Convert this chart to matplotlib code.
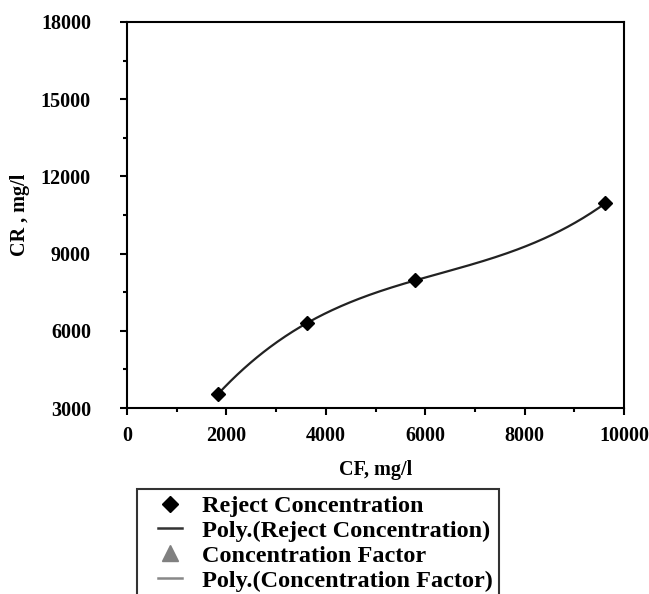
import numpy as np
import matplotlib
matplotlib.use("Agg")
import matplotlib.pyplot as plt
from matplotlib.lines import Line2D
from matplotlib.legend_handler import HandlerLine2D
from matplotlib.ticker import MultipleLocator

# Data
cf = [1830, 3620, 5800, 9620]
cr = [3540, 6300, 7960, 10950]
xticks = [0, 2000, 4000, 6000, 8000, 10000]
yticks = [3000, 6000, 9000, 12000, 15000, 18000]
legend_labels = ["Reject Concentration", "Poly.(Reject Concentration)",
                 "Concentration Factor", "Poly.(Concentration Factor)"]

plt.rcParams['font.family'] = ['Liberation Serif', 'DejaVu Serif']
plt.rcParams['font.weight'] = 'bold'


class ShiftHandler(HandlerLine2D):
    def __init__(self, frac, **kw):
        super().__init__(**kw)
        self.frac = frac

    def create_artists(self, legend, orig_handle, xdescent, ydescent, width,
                       height, fontsize, trans):
        shift = width * self.frac
        return super().create_artists(legend, orig_handle, xdescent - shift,
                                      ydescent, width - shift, height,
                                      fontsize, trans)


fig = plt.figure(figsize=(6.49, 5.94), dpi=100)
ax = fig.add_axes([0.1957, 0.3131, 0.9615 - 0.1957, 0.963 - 0.3131])

coef = np.polyfit(cf, cr, 3)
xs = np.linspace(min(cf), max(cf), 300)
ax.plot(xs, np.polyval(coef, xs), color='#222222', lw=1.6, zorder=2)
ax.plot(cf, cr, linestyle='none', marker='D', color='black', markersize=7.5, zorder=3)

ax.set_xlim(0, 10000)
ax.set_ylim(3000, 18000)
ax.set_xticks(xticks)
ax.set_yticks(yticks)
ax.xaxis.set_minor_locator(MultipleLocator(1000))
ax.yaxis.set_minor_locator(MultipleLocator(1500))
ax.tick_params(axis='both', which='major', direction='out', length=5, width=1.5,
               labelsize=14.5)
ax.tick_params(axis='x', which='major', pad=8)
ax.tick_params(axis='y', which='major', pad=21)
ax.tick_params(axis='both', which='minor', direction='out', length=3, width=1.5)
for lab in ax.get_xticklabels() + ax.get_yticklabels():
    lab.set_fontweight('bold')
for sp in ax.spines.values():
    sp.set_linewidth(1.5)

ax.set_xlabel("CF, mg/l", fontsize=14.5, fontweight='bold', labelpad=10)
ax.set_ylabel("CR , mg/l", fontsize=14.5, fontweight='bold', labelpad=8)

handles = [
    Line2D([], [], linestyle='none', marker='D', color='black', markersize=8),
    Line2D([], [], color='#333333', lw=1.8),
    Line2D([], [], linestyle='none', marker='^', color='#808080', markersize=11),
    Line2D([], [], color='#888888', lw=1.8),
]
hmap = {h: ShiftHandler(0.385) for h in handles}
leg = fig.legend(handles, legend_labels, loc='upper left',
                 bbox_to_anchor=(0.211, 0.1768), bbox_transform=fig.transFigure,
                 frameon=True, fancybox=False, edgecolor='black',
                 prop={'family': ['Liberation Serif'], 'weight': 'bold', 'size': 17.5},
                 handlelength=1.6, handletextpad=0.82, labelspacing=0.12,
                 borderpad=0.25, borderaxespad=0, handler_map=hmap)
leg.get_frame().set_linewidth(1.5)

fig.savefig("out.png", dpi=100)
